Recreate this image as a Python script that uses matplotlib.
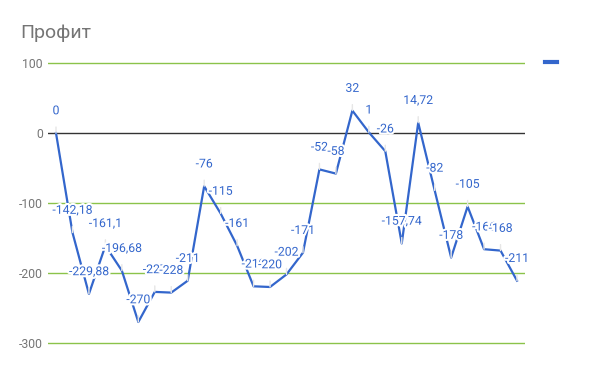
import matplotlib
matplotlib.use("Agg")
import matplotlib.pyplot as plt
import matplotlib.patheffects as pe

plt.rcParams['font.family'] = ['Roboto', 'DejaVu Sans']

# данные
title = "Профит"
values = [0, -142.18, -229.88, -161.1, -196.68, -270, -227, -228, -211, -76,
          -115, -161, -219, -220, -202, -171, -52, -58, 32, 1,
          -26, -157.74, 14.72, -82, -178, -105, -166, -168, -211]
point_labels = ["0", "-142,18", "-229,88", "-161,1", "-196,68", "-270", "-227", "-228",
                "-211", "-76", "-115", "-161", "-219", "-220", "-202", "-171", "-52",
                "-58", "32", "1", "-26", "-157,74", "14,72", "-82", "-178", "-105",
                "-166", "-168", "-211"]
y_ticks = [100, 0, -100, -200, -300]

W, H = 600, 371
blue = '#3366cc'
gray = '#757575'

fig = plt.figure(figsize=(W / 100, H / 100), dpi=100)
# ось: 48..525 px по x, 50..360 px по y
ax = fig.add_axes([48 / W, 1 - 360 / H, 477 / W, 310 / H])

x = list(range(len(values)))
line, = ax.plot(x, values, color=blue, lw=1.6, zorder=3)

pad = 8 / 16.464
ax.set_xlim(-pad, len(values) - 1 + pad)
ax.set_ylim((133 - 360) / 0.7, (133 - 50) / 0.7)

for t in y_ticks:
    if t == 0:
        ax.axhline(t, color='#333333', lw=1, zorder=1)
    else:
        ax.axhline(t, color='#8bc34a', lw=1, zorder=1)

ax.set_yticks(y_ticks)
ax.set_yticklabels([str(t) for t in y_ticks])
ax.tick_params(axis='y', length=0, pad=3.6, labelsize=8.8, labelcolor=gray)
ax.set_xticks([])
for s in ax.spines.values():
    s.set_visible(False)

# подписи точек
for xi, v, lab in zip(x, values, point_labels):
    ax.annotate(lab, xy=(xi, v), xytext=(0, 16), textcoords='offset points',
                ha='center', va='center', fontsize=8.8, color=blue, zorder=4,
                path_effects=[pe.withStroke(linewidth=3, foreground='white')],
                arrowprops=dict(arrowstyle='-', color='#e6e6e6', lw=1,
                                shrinkA=5, shrinkB=0))

fig.text(20 / W, 1 - 38 / H, title, fontsize=14, color=gray, va='baseline', ha='left')

leg = fig.legend([line], [''], loc='center left', bbox_to_anchor=(545 / W, 1 - 63 / H),
                 frameon=False, handlelength=1.0, borderpad=0, borderaxespad=0,
                 handletextpad=0, fontsize=8.8)
leg.legend_handles[0].set_linewidth(3)

fig.savefig('out.png', dpi=100)
